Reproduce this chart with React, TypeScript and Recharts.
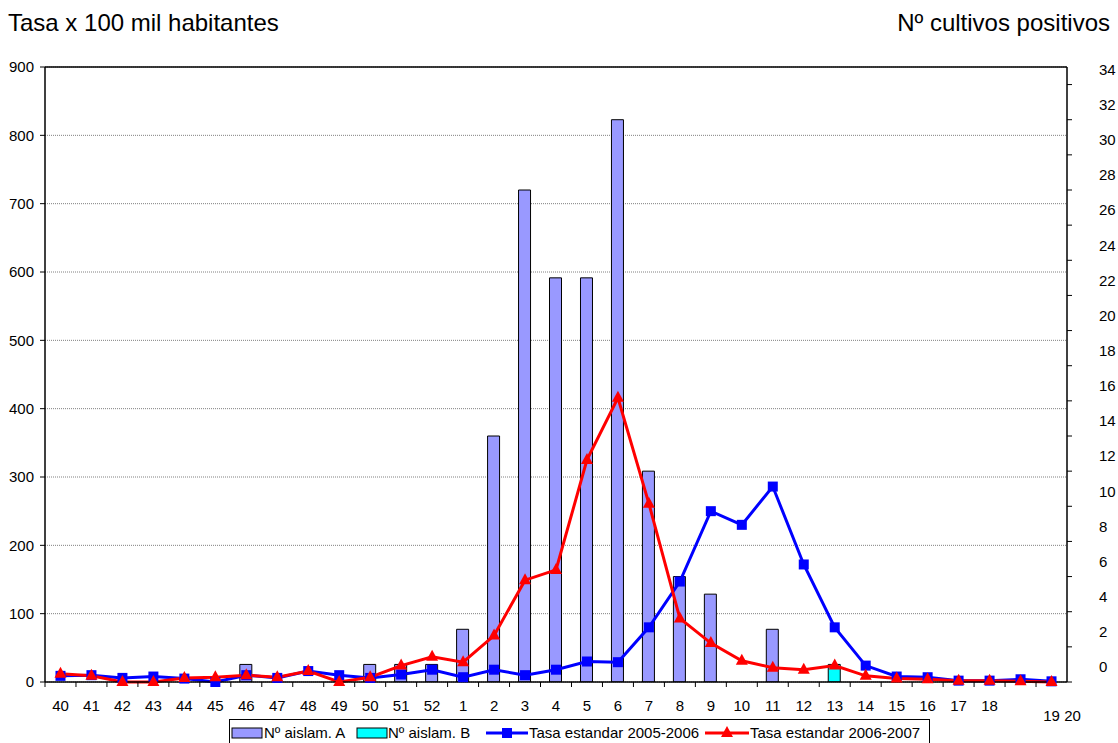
import {
  Bar,
  CartesianGrid,
  ComposedChart,
  Line,
  ReferenceLine,
  XAxis,
  YAxis,
} from "recharts";

const weeks = [
  "40", "41", "42", "43", "44", "45", "46", "47", "48", "49", "50", "51", "52",
  "1", "2", "3", "4", "5", "6", "7", "8", "9", "10", "11", "12", "13", "14",
  "15", "16", "17", "18", "19", "20",
];

// Nº cultivos positivos (eje derecho)
const aislamA = [
  0, 0, 0, 0, 0, 0, 1, 0, 0, 0, 1, 1, 1,
  3, 14, 28, 23, 23, 32, 12, 6, 5, 0, 3, 0, 0, 0, 0, 0, 0, 0, 0, 0,
];
const aislamB = [
  0, 0, 0, 0, 0, 0, 0, 0, 0, 0, 0, 0, 0,
  0, 0, 0, 0, 0, 0, 0, 0, 0, 0, 0, 0, 1, 0, 0, 0, 0, 0, 0, 0,
];

// Tasa x 100 mil habitantes (eje izquierdo)
const tasa0506 = [
  9, 10, 6, 8, 5, 0, 10, 6, 16, 10, 6, 11, 18,
  7, 18, 10, 18, 30, 29, 80, 147, 250, 230, 286, 172, 80, 24, 8, 7, 2, 2, 4, 1,
];
const tasa0607 = [
  12, 9, 0, 0, 6, 7, 10, 7, 16, 0, 7, 24, 37,
  29, 68, 149, 164, 325, 416, 261, 93, 57, 31, 21, 18, 24, 9, 5, 4, 2, 2, 1, 0,
];

const leftTicks = [0, 100, 200, 300, 400, 500, 600, 700, 800, 900];
const rightTicks = [0, 2, 4, 6, 8, 10, 12, 14, 16, 18, 20, 22, 24, 26, 28, 30, 32, 34];

const data = weeks.map((week, i) => ({
  week,
  a: aislamA[i],
  b: aislamB[i],
  t1: tasa0506[i],
  t2: tasa0607[i],
}));

const FONT = "'Liberation Sans', Arial, sans-serif";
const BAND = 1022 / weeks.length;

function WeekTick(props: any) {
  const { x, y, index } = props;
  // Excel dejó las dos últimas etiquetas desplazadas
  const shift = index === 31 ? [31, 10] : index === 32 ? [21, 10] : [0, 0];
  return (
    <g>
      <line x1={x - BAND / 2} x2={x - BAND / 2} y1={y} y2={y + 5} stroke="#000" />
      <text
        x={x + shift[0]}
        y={y + 29 + shift[1]}
        textAnchor="middle"
        fontSize={15}
        fill="#000"
      >
        {props.payload.value}
      </text>
    </g>
  );
}

function RightTick(props: any) {
  const { x, y, payload } = props;
  return (
    <text x={x} y={y - 15} dy="0.355em" textAnchor="start" fontSize={15} fill="#000">
      {payload.value}
    </text>
  );
}

function Square(props: any) {
  const { cx, cy, index } = props;
  return <rect key={`sq-${index}`} x={cx - 5} y={cy - 5} width={10} height={10} fill="#0000FF" />;
}

function Triangle(props: any) {
  const { cx, cy, index } = props;
  return (
    <polygon
      key={`tr-${index}`}
      points={`${cx},${cy - 7} ${cx + 6},${cy + 4} ${cx - 6},${cy + 4}`}
      fill="#FF0000"
    />
  );
}

function LegendBox() {
  const text = { position: "absolute" as const, top: 4, fontSize: 15, lineHeight: "17px" };
  return (
    <div
      style={{
        position: "absolute",
        left: 229,
        top: 719,
        width: 699,
        height: 26,
        border: "1px solid #000",
        background: "#fff",
      }}
    >
      <svg width={699} height={26} style={{ position: "absolute", left: 0, top: 0 }}>
        <rect x={2} y={8} width={30} height={10} fill="#9999FF" stroke="#000" />
        <rect x={127} y={8} width={30} height={10} fill="#00FFFF" stroke="#000" />
        <line x1={256} x2={298} y1={13} y2={13} stroke="#0000FF" strokeWidth={3} />
        <rect x={272} y={8} width={10} height={10} fill="#0000FF" />
        <line x1={475} x2={519} y1={13} y2={13} stroke="#FF0000" strokeWidth={3} />
        <polygon points="497,6 503,17 491,17" fill="#FF0000" />
      </svg>
      <span style={{ ...text, left: 34 }}>Nº aislam. A</span>
      <span style={{ ...text, left: 158 }}>Nº aislam. B</span>
      <span style={{ ...text, left: 299 }}>Tasa estandar 2005-2006</span>
      <span style={{ ...text, left: 520 }}>Tasa estandar 2006-2007</span>
    </div>
  );
}

export default function App() {
  return (
    <div
      style={{
        position: "absolute",
        left: 0,
        top: 0,
        width: 1118,
        height: 743,
        overflow: "hidden",
        background: "#fff",
        fontFamily: FONT,
        color: "#000",
      }}
    >
      <div style={{ position: "absolute", left: 8, top: 9, fontSize: 24, lineHeight: "28px" }}>
        Tasa x 100 mil habitantes
      </div>
      <div
        style={{
          position: "absolute",
          right: 8,
          top: 9,
          fontSize: 24,
          lineHeight: "28px",
        }}
      >
        Nº cultivos positivos
      </div>
      <ComposedChart
        width={1118}
        height={743}
        data={data}
        margin={{ top: 67, right: 0, bottom: 31, left: 0 }}
        barCategoryGap={0}
      >
        <CartesianGrid
          yAxisId="left"
          vertical={false}
          stroke="#808080"
          strokeDasharray="1 1"
        />
        <XAxis
          dataKey="week"
          interval={0}
          height={30}
          tickSize={0}
          tickMargin={0}
          tickLine={false}
          axisLine={{ stroke: "#000", strokeWidth: 1.5 }}
          tick={<WeekTick />}
        />
        <YAxis
          yAxisId="left"
          width={45}
          domain={[0, 900]}
          ticks={leftTicks}
          tickSize={5}
          tickMargin={6}
          axisLine={{ stroke: "#000", strokeWidth: 1.5 }}
          tickLine={{ stroke: "#000" }}
          tick={{ fill: "#000", fontSize: 15 }}
        />
        <YAxis
          yAxisId="right"
          orientation="right"
          width={51}
          domain={[0, 35]}
          ticks={rightTicks}
          allowDataOverflow
          tickSize={5}
          tickMargin={27}
          axisLine={{ stroke: "#000", strokeWidth: 1.5 }}
          tickLine={{ stroke: "#000" }}
          tick={<RightTick />}
        />
        <ReferenceLine yAxisId="left" y={900} stroke="#000" strokeWidth={1.5} />
        <Bar
          yAxisId="right"
          dataKey="a"
          stackId="n"
          barSize={12}
          fill="#9999FF"
          stroke="#000"
          strokeWidth={1}
          isAnimationActive={false}
        />
        <Bar
          yAxisId="right"
          dataKey="b"
          stackId="n"
          barSize={12}
          fill="#00FFFF"
          stroke="#000"
          strokeWidth={1}
          isAnimationActive={false}
        />
        <Line
          yAxisId="left"
          type="linear"
          dataKey="t1"
          stroke="#0000FF"
          strokeWidth={3}
          dot={<Square />}
          activeDot={false}
          isAnimationActive={false}
        />
        <Line
          yAxisId="left"
          type="linear"
          dataKey="t2"
          stroke="#FF0000"
          strokeWidth={3}
          dot={<Triangle />}
          activeDot={false}
          isAnimationActive={false}
        />
      </ComposedChart>
      <LegendBox />
    </div>
  );
}
